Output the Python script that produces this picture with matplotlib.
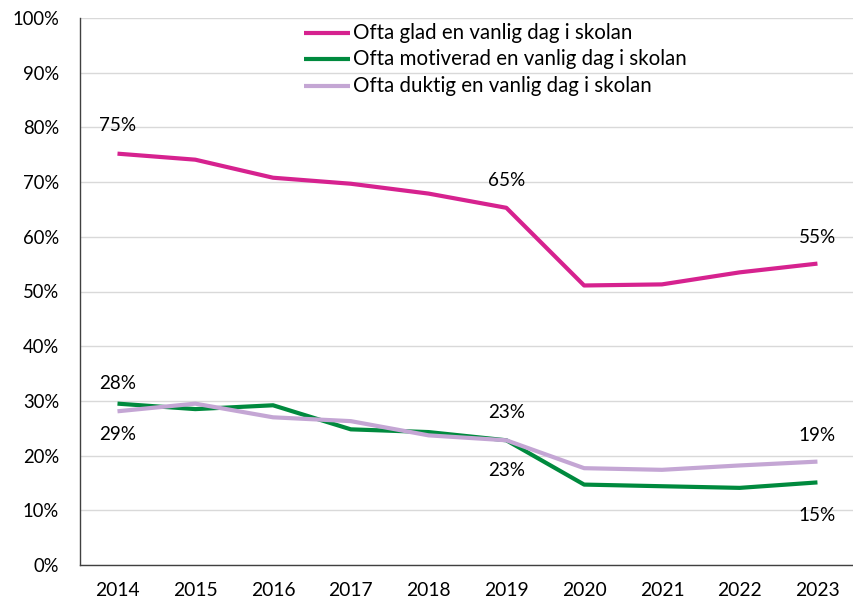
import matplotlib
matplotlib.use("Agg")
import matplotlib.pyplot as plt
from matplotlib.lines import Line2D
from matplotlib.ticker import FuncFormatter

years = [2014, 2015, 2016, 2017, 2018, 2019, 2020, 2021, 2022, 2023]
glad = [75.2, 74.1, 70.8, 69.7, 67.9, 65.3, 51.1, 51.3, 53.5, 55.1]
motiverad = [29.5, 28.5, 29.2, 24.8, 24.3, 22.8, 14.7, 14.4, 14.1, 15.1]
duktig = [28.1, 29.5, 27.0, 26.3, 23.7, 22.8, 17.7, 17.4, 18.2, 18.9]

names = ["Ofta glad en vanlig dag i skolan",
         "Ofta motiverad en vanlig dag i skolan",
         "Ofta duktig en vanlig dag i skolan"]
colors = ["#D6228F", "#008A3E", "#C4A6D4"]

# etiketter: (index, serie, text, förskjutning i punkter)
labels = [
    (0, glad, "75%", 20), (5, glad, "65%", 20), (9, glad, "55%", 19),
    (0, duktig, "28%", 20), (0, motiverad, "29%", -22),
    (5, duktig, "23%", 20), (5, motiverad, "23%", -21.5),
    (9, duktig, "19%", 19), (9, motiverad, "15%", -24),
]

plt.rcParams['font.family'] = ['Lato', 'DejaVu Sans']

W, H = 854, 603
fig = plt.figure(figsize=(W / 100, H / 100), dpi=100)
renderer = fig.canvas.get_renderer()


# anpassa teckenstorlek så att texten får en viss bredd i pixlar
def fit_size(text, target_px):
    t = fig.text(0, 0, text, fontsize=10)
    w = t.get_window_extent(renderer).width
    t.remove()
    return 10 * target_px / w


fs_leg = fit_size(names[0], 279)
fs_x = fit_size("2014", 45)
fs_y = fit_size("100%", 47)
fs_lab = fit_size("75%", 37)

ax = fig.add_axes([80 / W, 38 / H, 774 / W, 547 / H])

for vals, c, n in zip([glad, motiverad, duktig], colors, names):
    ax.plot(years, vals, color=c, lw=3, label=n, solid_capstyle='butt', zorder=3)

for i, vals, txt, off in labels:
    ax.annotate(txt, (years[i], vals[i]), xytext=(0, off), textcoords='offset points',
                ha='center', va='center', fontsize=fs_lab, color='#000000')

ax.set_ylim(0, 100)
ax.set_xlim(2014 - 0.482, 2023 + 0.47)
ax.set_yticks(range(0, 101, 10))
ax.yaxis.set_major_formatter(FuncFormatter(lambda v, p: f"{int(v)}%"))
ax.set_xticks(years)
ax.tick_params(length=0, colors='#000000')
ax.tick_params(axis='x', pad=12, labelsize=fs_x)
ax.tick_params(axis='y', pad=15, labelsize=fs_y)
ax.grid(axis='y', color='#D9D9D9', lw=1)
ax.set_axisbelow(True)
for s in ['top', 'right']:
    ax.spines[s].set_visible(False)
for s in ['left', 'bottom']:
    ax.spines[s].set_color('#404040')
    ax.spines[s].set_linewidth(1)

# teckenförklaring utan ram, placerad som i originalet
rows_y = [33, 59, 86]
for n, c, y in zip(names, colors, rows_y):
    fy = 1 - y / H
    fig.add_artist(Line2D([304 / W, 350 / W], [fy, fy], color=c, lw=3,
                          solid_capstyle='butt', transform=fig.transFigure))
    fig.text(353 / W, fy, n, fontsize=fs_leg, va='center', ha='left', color='#000000')

fig.savefig("out.png", dpi=100)
